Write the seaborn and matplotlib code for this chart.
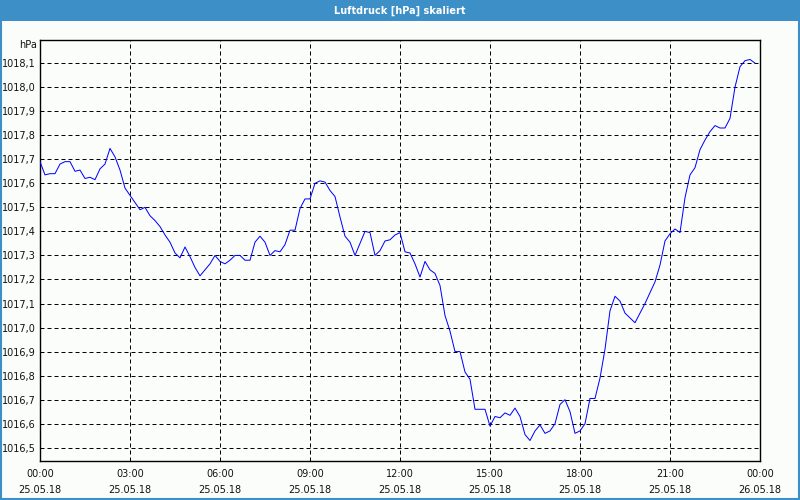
import matplotlib
matplotlib.use("Agg")
import matplotlib.pyplot as plt
import matplotlib.dates as mdates
from matplotlib.patches import Rectangle
import seaborn as sns
import pandas as pd
import numpy as np

# ---- data (10-minute readings, 25.05.18 00:00 .. 23:50) ----
start_time = "2018-05-25 00:00"
interval = "10min"
pressure_hpa = [
    1017.69, 1017.635, 1017.64, 1017.64, 1017.68, 1017.69, 1017.69, 1017.65, 1017.655, 1017.62,
    1017.625, 1017.615, 1017.66, 1017.68, 1017.745, 1017.71, 1017.655, 1017.58, 1017.55, 1017.52,
    1017.49, 1017.50, 1017.465, 1017.445, 1017.42, 1017.385, 1017.355, 1017.31, 1017.29, 1017.335,
    1017.295, 1017.25, 1017.215, 1017.24, 1017.265, 1017.30, 1017.275, 1017.265, 1017.28, 1017.30,
    1017.30, 1017.28, 1017.28, 1017.355, 1017.38, 1017.355, 1017.30, 1017.32, 1017.315, 1017.345,
    1017.405, 1017.405, 1017.495, 1017.535, 1017.535, 1017.60, 1017.61, 1017.605, 1017.57, 1017.545,
    1017.46, 1017.38, 1017.355, 1017.30, 1017.35, 1017.40, 1017.395, 1017.30, 1017.32, 1017.36,
    1017.365, 1017.385, 1017.395, 1017.315, 1017.31, 1017.265, 1017.21, 1017.275, 1017.24, 1017.225,
    1017.175, 1017.05, 1016.985, 1016.90, 1016.90, 1016.815, 1016.785, 1016.66, 1016.66, 1016.66,
    1016.59, 1016.63, 1016.625, 1016.645, 1016.635, 1016.665, 1016.63, 1016.555, 1016.53, 1016.57,
    1016.595, 1016.56, 1016.57, 1016.60, 1016.68, 1016.70, 1016.65, 1016.56, 1016.57, 1016.60,
    1016.705, 1016.705, 1016.79, 1016.91, 1017.07, 1017.13, 1017.11, 1017.06, 1017.04, 1017.02,
    1017.06, 1017.10, 1017.145, 1017.19, 1017.26, 1017.36, 1017.39, 1017.41, 1017.395, 1017.54,
    1017.635, 1017.665, 1017.74, 1017.78, 1017.815, 1017.84, 1017.83, 1017.83, 1017.87, 1018.00,
    1018.085, 1018.11, 1018.115, 1018.10,
]
y_ticks = [1016.5, 1016.6, 1016.7, 1016.8, 1016.9, 1017.0, 1017.1, 1017.2, 1017.3,
           1017.4, 1017.5, 1017.6, 1017.7, 1017.8, 1017.9, 1018.0, 1018.1]
x_tick_times = ["2018-05-25 00:00", "2018-05-25 03:00", "2018-05-25 06:00", "2018-05-25 09:00",
                "2018-05-25 12:00", "2018-05-25 15:00", "2018-05-25 18:00", "2018-05-25 21:00",
                "2018-05-26 00:00"]
x_tick_labels = ["00:00\n25.05.18", "03:00\n25.05.18", "06:00\n25.05.18", "09:00\n25.05.18",
                 "12:00\n25.05.18", "15:00\n25.05.18", "18:00\n25.05.18", "21:00\n25.05.18",
                 "00:00\n26.05.18"]
title = "Luftdruck [hPa] skaliert"
unit = "hPa"

df = pd.DataFrame({
    "time": pd.date_range(start_time, periods=len(pressure_hpa), freq=interval),
    "pressure": pressure_hpa,
})

sns.set_style("white")
plt.rcParams["font.family"] = ["DejaVu Sans"]

BG = "#fbfdfb"
BLUE_BAR = "#3d8fc7"

fig = plt.figure(figsize=(8, 5), dpi=100, facecolor=BG)
ax = fig.add_axes([40 / 800, 1 - 460.5 / 500, 720 / 800, 420.5 / 500])
ax.set_facecolor(BG)

sns.lineplot(data=df, x="time", y="pressure", ax=ax, color="#0000ff",
             linewidth=0.72, antialiased=True, zorder=3)

ax.set_xlim(pd.Timestamp("2018-05-25 00:00"), pd.Timestamp("2018-05-26 00:00"))
ax.set_ylim(1016.447, 1018.196)

ax.set_yticks(y_ticks)
ax.set_yticklabels([f"{v:.1f}".replace(".", ",") for v in y_ticks], fontsize=7, color="#111111")
ax.set_xticks([pd.Timestamp(t) for t in x_tick_times])
ax.set_xticklabels(x_tick_labels, fontsize=7, color="#111111", linespacing=1.75)
ax.xaxis.set_minor_locator(mdates.HourLocator())

ax.tick_params(axis="y", which="both", length=0, pad=3)
ax.tick_params(axis="x", which="both", direction="out", length=3, width=0.75,
               color="black", pad=3)

ax.set_xlabel("")
ax.set_ylabel("")

ax.grid(True, which="major", color="black", linewidth=0.72, linestyle=(0, (4, 3)))
for s in ax.spines.values():
    s.set_visible(True)
    s.set_color("black")
    s.set_linewidth(1.0)

# title bar
fig.patches.append(Rectangle((0, 1 - 21 / 500), 1, 21 / 500, transform=fig.transFigure,
                             facecolor=BLUE_BAR, edgecolor="none", zorder=0))
fig.text(0.5, 1 - 10.5 / 500, title, ha="center", va="center", color="white",
         fontsize=7, fontweight="bold")
# outer frame
fig.patches.append(Rectangle((0.001, 0.002), 0.998, 0.996, transform=fig.transFigure,
                             facecolor="none", edgecolor=BLUE_BAR, linewidth=1.5, zorder=1))
# unit label
fig.text(37 / 800, 1 - 45 / 500, unit, ha="right", va="center", fontsize=7, color="#111111")

fig.savefig("out.png", dpi=100, facecolor=BG)
